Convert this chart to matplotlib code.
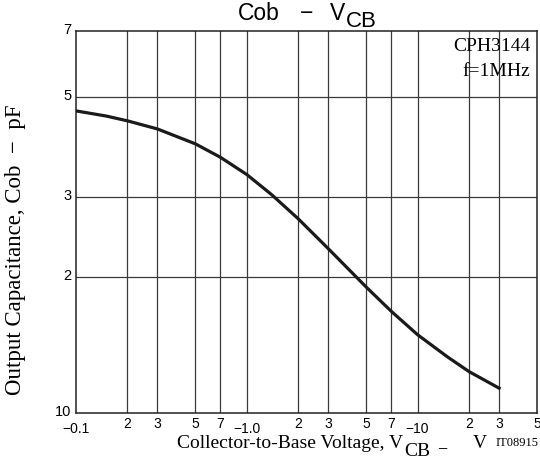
import matplotlib
matplotlib.use("Agg")
import matplotlib.pyplot as plt
import matplotlib.transforms as mtransforms

# Cob - VCB curve (CPH3144, f=1MHz)
vcb = [-0.1, -0.15, -0.2, -0.3, -0.5, -0.7, -1.0, -1.4, -2, -3, -5, -7, -10, -15, -20, -30]
cob = [4.66, 4.54, 4.43, 4.25, 3.94, 3.68, 3.37, 3.04, 2.69, 2.31, 1.90, 1.68, 1.49, 1.33, 1.235, 1.135]

x_grid = [0.2, 0.3, 0.5, 0.7, 1.0, 2, 3, 5, 7, 10, 20, 30]
x_tick_pos = [0.1, 0.2, 0.3, 0.5, 0.7, 1.0, 2, 3, 5, 7, 10, 20, 30, 50]
x_tick_lbl = ["\u22120.1", "2", "3", "5", "7", "\u22121.0", "2", "3", "5", "7", "\u221210", "2", "3", "5"]
y_ticks = [1, 2, 3, 5, 7]
y_tick_lbl = ["10", "2", "3", "5", "7"]

sans = ["Liberation Sans", "DejaVu Sans"]
serif = ["Liberation Serif", "DejaVu Serif"]

fig = plt.figure(figsize=(5.4, 4.65), dpi=100)
ax = fig.add_axes([0.1407, 0.1118, 0.8537, 0.8215])

ax.set_xscale("log")
ax.set_yscale("log")
ax.set_xlim(0.1, 50)
ax.set_ylim(1, 7)

for xv in x_grid:
    ax.axvline(xv, color="#3a3a3a", lw=0.9, zorder=1)
for yv in [2, 3, 5]:
    ax.axhline(yv, color="#3a3a3a", lw=0.9, zorder=1)

ax.plot([-v for v in vcb], cob, color="#1a1a1a", lw=2.3, zorder=3,
        solid_joinstyle="round")

for s in ax.spines.values():
    s.set_color("#222222")
    s.set_linewidth(1.1)

ax.set_xticks([])
ax.set_yticks([])
ax.minorticks_off()

# tick labels as text, decade labels sit a bit lower
trans_x = mtransforms.blended_transform_factory(ax.transData, ax.transAxes)
for xv, lb in zip(x_tick_pos, x_tick_lbl):
    dy = -0.041 if lb.startswith("\u2212") else -0.029
    ax.text(xv, dy, lb, transform=trans_x, ha="center", va="center",
            fontsize=10, family=sans, clip_on=False)

trans_y = mtransforms.blended_transform_factory(ax.transAxes, ax.transData)
for yv, lb in zip(y_ticks, y_tick_lbl):
    ax.text(-0.01, yv * 1.006, lb, transform=trans_y, ha="right", va="center",
            fontsize=10.5, family=sans, clip_on=False)

# title: Cob - VCB with a full-size lowered "CB"
fig.text(0.4407, 0.957, "Cob", ha="left", va="baseline", fontsize=16.5, family=sans)
fig.text(0.567, 0.957, "\u2212", ha="center", va="baseline", fontsize=16.5, family=sans)
fig.text(0.639, 0.957, "V", ha="right", va="baseline", fontsize=16.5, family=sans)
fig.text(0.641, 0.943, "CB", ha="left", va="baseline", fontsize=16, family=sans)

# x label
fig.text(0.746, 0.036, "Collector-to-Base Voltage, V", ha="right", va="baseline",
         fontsize=14, family=serif)
fig.text(0.749, 0.0194, "CB", ha="left", va="baseline", fontsize=14, family=serif)
fig.text(0.818, 0.025, "\u2212", ha="center", va="baseline", fontsize=13, family=serif)
fig.text(0.876, 0.036, "V", ha="left", va="baseline", fontsize=14, family=serif)
fig.text(0.998, 0.047, "IT08915", ha="right", va="center", fontsize=9, family=serif)

# y label
fig.text(0.028, 0.462, "Output Capacitance, Cob  \u2212  pF", rotation=90,
         ha="center", va="center", fontsize=16.5, family=serif)

ax.text(0.985, 0.959, "CPH3144", transform=ax.transAxes, ha="right", va="center",
        fontsize=14, family=serif)
ax.text(0.985, 0.893, "f=1MHz", transform=ax.transAxes, ha="right", va="center",
        fontsize=14, family=serif)

fig.savefig("out.png", dpi=100)
